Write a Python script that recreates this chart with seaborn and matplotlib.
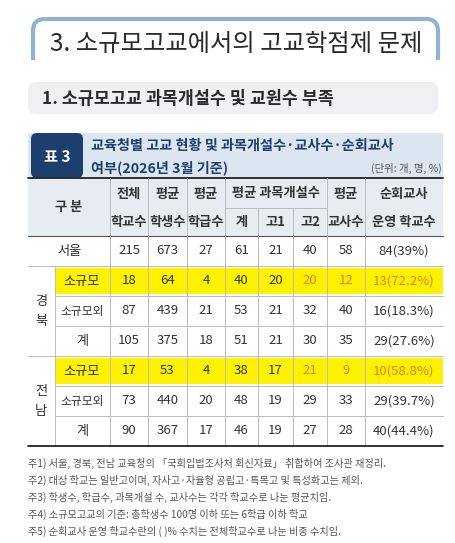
import matplotlib
matplotlib.use("Agg")
import matplotlib.pyplot as plt
import seaborn as sns
from matplotlib.patches import FancyBboxPatch, Rectangle

sns.set_theme(style="white")
plt.rcParams['font.family'] = ['Noto Sans CJK KR', 'DejaVu Sans']

title = "3. 소규모고교에서의 고교학점제 문제"
subtitle = "1. 소규모고교 과목개설수 및 교원수 부족"
table_label = "표 3"
caption1 = "교육청별 고교 현황 및 과목개설수·교사수·순회교사"
caption2 = "여부(2026년 3월 기준)"
unit = "(단위: 개, 명, %)"
regions = ["서울", "경북", "경북", "경북", "전남", "전남", "전남"]
groups = ["", "소규모", "소규모외", "계", "소규모", "소규모외", "계"]
schools = [215, 18, 87, 105, 17, 73, 90]
students = [673, 64, 439, 375, 53, 440, 367]
classes = [27, 4, 21, 18, 4, 20, 17]
subj_total = [61, 40, 53, 51, 38, 48, 46]
subj_g1 = [21, 20, 21, 21, 17, 19, 19]
subj_g2 = [40, 20, 32, 30, 21, 29, 27]
teachers = [58, 12, 40, 35, 9, 33, 28]
itinerant = ["84(39%)", "13(72.2%)", "16(18.3%)", "29(27.6%)", "10(58.8%)", "29(39.7%)", "40(44.4%)"]
notes = ["주1) 서울, 경북, 전남 교육청의 「국회입법조사처 회신자료」 취합하여 조사관 재정리.",
         "주2) 대상 학교는 일반고이며, 자사고·자율형 공립고·특목고 및 특성화고는 제외.",
         "주3) 학생수, 학급수, 과목개설 수, 교사수는 각각 학교수로 나눈 평균치임.",
         "주4) 소규모고교의 기준: 총학생수 100명 이하 또는 6학급 이하 학교",
         "주5) 순회교사 운영 학교수란의 ( )% 수치는 전체학교수로 나눈 비중 수치임."]

fig = plt.figure(figsize=(4.56, 5.43), dpi=100)
ax = fig.add_axes([0, 0, 1, 1])
ax.set_xlim(0, 456); ax.set_ylim(543, 0); ax.axis("off")

navy = "#1d3f6e"; txt = "#333333"; grid = "#bbbbbb"
ax.add_patch(FancyBboxPatch((33, 19), 405, 50, boxstyle="round,pad=0,rounding_size=12",
                            fc="white", ec="#8fb3d1", lw=3))
ax.add_patch(Rectangle((28, 60), 420, 15, fc="white", ec="none"))
ax.text(236, 44, title, ha="center", va="center", fontsize=17.5, color="#2a2a2a")
ax.add_patch(FancyBboxPatch((28, 82), 410, 32, boxstyle="round,pad=0,rounding_size=8",
                            fc="#eef0f3", ec="none"))
ax.text(42, 99, subtitle, ha="left", va="center", fontsize=12.5, color="#2a2a2a", weight="bold")
ax.add_patch(Rectangle((28, 133), 415, 45, fc="#dce6f0", ec="none"))
ax.add_patch(FancyBboxPatch((31, 133), 52, 45, boxstyle="round,pad=0,rounding_size=6", fc=navy, ec="none"))
ax.text(57, 157, table_label, ha="center", va="center", fontsize=11, color="white", weight="bold")
ax.text(91, 146, caption1, ha="left", va="center", fontsize=10.2, color=navy, weight="bold")
ax.text(91, 168, caption2, ha="left", va="center", fontsize=10.2, color=navy, weight="bold")
ax.text(442, 168, unit, ha="right", va="center", fontsize=7.5, color="#555555")

cols = [28, 55, 110, 148, 187, 225, 258, 293, 327, 365, 443]
hy0, hmid, hy1 = 178, 208, 236
rh = 30
rows_y = [hy1 + i * rh for i in range(8)]
ax.add_patch(Rectangle((28, hy0), 415, hy1 - hy0, fc="#e6ecf2", ec="none"))
for i, g in enumerate(groups):
    if g == "소규모":
        ax.add_patch(Rectangle((55, rows_y[i] + 2), 388, rh - 4, fc="#fff200", ec="none"))
ax.plot([28, 443], [hy0, hy0], color="#222222", lw=1.3)
ax.plot([28, 443], [hy1, hy1], color="#555555", lw=0.8)
ax.plot([225, 327], [hmid, hmid], color=grid, lw=0.7)
for x in cols[1:-1]:
    if x == 55:
        ytop = rows_y[1]
    elif x in (258, 293):
        ytop = hmid
    else:
        ytop = hy0
    ax.plot([x, x], [ytop, rows_y[-1]], color=grid, lw=0.7)
for i in range(1, 7):
    x0 = 55 if i in (2, 3, 5, 6) else 28
    ax.plot([x0, 443], [rows_y[i], rows_y[i]], color=grid, lw=0.7)
ax.plot([28, 443], [rows_y[-1], rows_y[-1]], color="#222222", lw=1.3)

hs = dict(ha="center", va="center", fontsize=9.5, color=txt, weight="bold")
ax.text(69, 207, "구 분", **hs)
for x0, x1, a, b in [(110, 148, "전체", "학교수"), (148, 187, "평균", "학생수"),
                     (187, 225, "평균", "학급수"), (327, 365, "평균", "교사수")]:
    ax.text((x0 + x1) / 2, 194, a, **hs); ax.text((x0 + x1) / 2, 222, b, **hs)
ax.text(404, 194, "순회교사", **hs); ax.text(404, 222, "운영 학교수", **hs)
ax.text(276, 193, "평균 과목개설수", **hs)
for x0, x1, s in [(225, 258, "계"), (258, 293, "고1"), (293, 327, "고2")]:
    ax.text((x0 + x1) / 2, 222, s, **hs)

ds = dict(ha="center", va="center", fontsize=9.5)
for i in range(7):
    yc = rows_y[i] + rh / 2
    if i == 0:
        ax.text(69, yc, regions[i], color=txt, **ds)
    else:
        ax.text(82, yc, groups[i], color=txt, fontsize=8.5 if groups[i] == "소규모외" else 9.5,
                ha="center", va="center")
    vals = [schools[i], students[i], classes[i], subj_total[i], subj_g1[i], subj_g2[i], teachers[i], itinerant[i]]
    for j, v in enumerate(vals):
        c = "#f07c00" if (groups[i] == "소규모" and j >= 5) else txt
        ax.text((cols[j + 2] + cols[j + 3]) / 2, yc, str(v), color=c, **ds)
for start in (1, 4):
    name = regions[start]
    ymid = rows_y[start] + 1.5 * rh
    ax.text(41, ymid - 10, name[0], color=txt, **ds)
    ax.text(41, ymid + 10, name[1], color=txt, **ds)

for k, n in enumerate(notes):
    ax.text(28, 463 + k * 17, n, ha="left", va="center", fontsize=7.3, color="#555555")

fig.savefig("out.png", dpi=100)
